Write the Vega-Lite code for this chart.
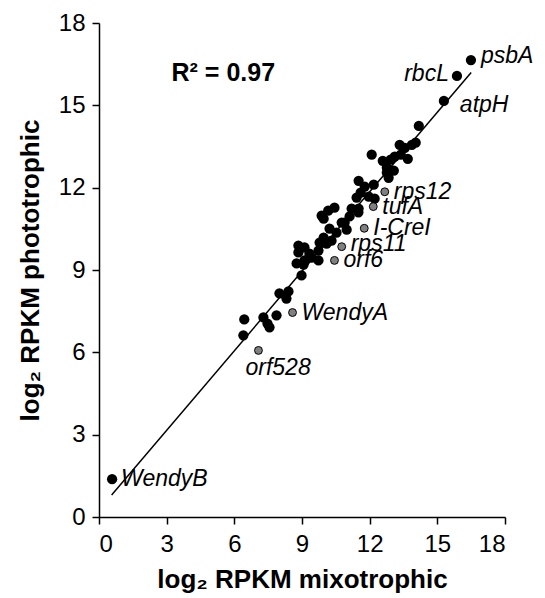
{
  "$schema": "https://vega.github.io/schema/vega-lite/v6.json",
  "autosize": {"type": "none"},
  "padding": {"left": 99, "top": 23, "right": 40, "bottom": 81},
  "width": 406,
  "height": 494,
  "background": "white",
  "config": {
    "view": {"stroke": null},
    "font": "Liberation Sans",
    "axis": {
      "grid": false,
      "domainColor": "black",
      "domainWidth": 1.5,
      "tickColor": "black",
      "tickWidth": 1.5,
      "tickSize": 7,
      "labelFont": "Liberation Sans",
      "labelFontSize": 24,
      "labelColor": "black",
      "titleFont": "Liberation Sans",
      "titleFontSize": 26,
      "titleFontWeight": "bold",
      "titleColor": "black"
    }
  },
  "datasets": {
    "genes": [
      {"x": 16.49, "y": 16.65, "group": "black", "label": "psbA"},
      {"x": 15.87, "y": 16.07, "group": "black", "label": "rbcL"},
      {"x": 15.29, "y": 15.16, "group": "black", "label": "atpH"},
      {"x": 14.18, "y": 14.25, "group": "black", "label": ""},
      {"x": 13.33, "y": 13.56, "group": "black", "label": ""},
      {"x": 13.56, "y": 13.45, "group": "black", "label": ""},
      {"x": 13.87, "y": 13.56, "group": "black", "label": ""},
      {"x": 14.04, "y": 13.64, "group": "black", "label": ""},
      {"x": 12.09, "y": 13.2, "group": "black", "label": ""},
      {"x": 12.58, "y": 12.98, "group": "black", "label": ""},
      {"x": 12.93, "y": 13.02, "group": "black", "label": ""},
      {"x": 13.11, "y": 13.13, "group": "black", "label": ""},
      {"x": 13.38, "y": 13.2, "group": "black", "label": ""},
      {"x": 13.69, "y": 13.05, "group": "black", "label": ""},
      {"x": 12.76, "y": 12.73, "group": "black", "label": ""},
      {"x": 13.07, "y": 12.62, "group": "black", "label": ""},
      {"x": 12.76, "y": 12.55, "group": "black", "label": ""},
      {"x": 12.84, "y": 12.36, "group": "black", "label": ""},
      {"x": 11.51, "y": 12.25, "group": "black", "label": ""},
      {"x": 11.78, "y": 12.04, "group": "black", "label": ""},
      {"x": 12.18, "y": 12.11, "group": "black", "label": ""},
      {"x": 11.6, "y": 11.82, "group": "black", "label": ""},
      {"x": 11.96, "y": 11.67, "group": "black", "label": ""},
      {"x": 11.42, "y": 11.64, "group": "black", "label": ""},
      {"x": 12.22, "y": 11.6, "group": "black", "label": ""},
      {"x": 10.44, "y": 11.27, "group": "black", "label": ""},
      {"x": 11.2, "y": 11.24, "group": "black", "label": ""},
      {"x": 11.51, "y": 11.24, "group": "black", "label": ""},
      {"x": 11.5, "y": 11.1, "group": "black", "label": ""},
      {"x": 11.11, "y": 10.95, "group": "black", "label": ""},
      {"x": 10.89, "y": 10.73, "group": "black", "label": ""},
      {"x": 10.16, "y": 11.16, "group": "black", "label": ""},
      {"x": 9.87, "y": 10.98, "group": "black", "label": ""},
      {"x": 9.96, "y": 10.87, "group": "black", "label": ""},
      {"x": 10.76, "y": 10.73, "group": "black", "label": ""},
      {"x": 10.98, "y": 10.47, "group": "black", "label": ""},
      {"x": 10.53, "y": 10.36, "group": "black", "label": ""},
      {"x": 10.22, "y": 10.51, "group": "black", "label": ""},
      {"x": 9.96, "y": 10.18, "group": "black", "label": ""},
      {"x": 9.78, "y": 10.0, "group": "black", "label": ""},
      {"x": 10.09, "y": 9.96, "group": "black", "label": ""},
      {"x": 10.31, "y": 10.07, "group": "black", "label": ""},
      {"x": 9.11, "y": 9.82, "group": "black", "label": ""},
      {"x": 8.84, "y": 9.89, "group": "black", "label": ""},
      {"x": 8.84, "y": 9.64, "group": "black", "label": ""},
      {"x": 9.33, "y": 9.6, "group": "black", "label": ""},
      {"x": 9.73, "y": 9.71, "group": "black", "label": ""},
      {"x": 9.11, "y": 9.35, "group": "black", "label": ""},
      {"x": 9.73, "y": 9.35, "group": "black", "label": ""},
      {"x": 8.76, "y": 9.24, "group": "black", "label": ""},
      {"x": 9.07, "y": 9.2, "group": "black", "label": ""},
      {"x": 9.42, "y": 9.45, "group": "black", "label": ""},
      {"x": 8.98, "y": 8.8, "group": "black", "label": ""},
      {"x": 8.0, "y": 8.15, "group": "black", "label": ""},
      {"x": 8.4, "y": 8.22, "group": "black", "label": ""},
      {"x": 8.31, "y": 7.96, "group": "black", "label": ""},
      {"x": 6.44, "y": 7.2, "group": "black", "label": ""},
      {"x": 7.29, "y": 7.27, "group": "black", "label": ""},
      {"x": 7.87, "y": 7.35, "group": "black", "label": ""},
      {"x": 7.56, "y": 6.91, "group": "black", "label": ""},
      {"x": 7.47, "y": 7.05, "group": "black", "label": ""},
      {"x": 6.4, "y": 6.62, "group": "black", "label": ""},
      {"x": 0.58, "y": 1.38, "group": "black", "label": "WendyB"},
      {"x": 12.67, "y": 11.85, "group": "gray", "label": "rps12"},
      {"x": 12.16, "y": 11.31, "group": "gray", "label": "tufA"},
      {"x": 11.76, "y": 10.52, "group": "gray", "label": "I-CreI"},
      {"x": 10.76, "y": 9.85, "group": "gray", "label": "rps11"},
      {"x": 10.44, "y": 9.35, "group": "gray", "label": "orf6"},
      {"x": 8.58, "y": 7.45, "group": "gray", "label": "WendyA"},
      {"x": 7.07, "y": 6.07, "group": "gray", "label": "orf528"}
    ],
    "fit": [
      {"x": 0.56, "y": 0.8},
      {"x": 16.5, "y": 16.2}
    ],
    "note": [
      {"x": 5.51, "y": 16.18, "text": "R² = 0.97"}
    ]
  },
  "encoding": {
    "x": {"field": "x", "type": "quantitative", "scale": {"domain": [0, 18], "nice": false}, "axis": {"values": [0, 3, 6, 9, 12, 15, 18], "title": "log₂ RPKM mixotrophic", "titlePadding": 10, "labelPadding": 8}},
    "y": {"field": "y", "type": "quantitative", "scale": {"domain": [0, 18], "nice": false}, "axis": {"values": [0, 3, 6, 9, 12, 15, 18], "title": "log₂ RPKM phototrophic", "titlePadding": 15, "labelPadding": 7}}
  },
  "layer": [
    {
      "data": {"name": "fit"},
      "mark": {"type": "line", "color": "black", "strokeWidth": 1.5}
    },
    {
      "data": {"name": "genes"},
      "transform": [{"filter": "datum.group === 'black'"}],
      "mark": {"type": "circle", "color": "black", "opacity": 1, "size": 105}
    },
    {
      "data": {"name": "genes"},
      "transform": [{"filter": "datum.group === 'gray'"}],
      "mark": {"type": "point", "shape": "circle", "filled": true, "fill": "#808080", "stroke": "black", "strokeWidth": 1, "opacity": 1, "size": 62}
    },
    {
      "data": {"name": "genes"},
      "transform": [{"filter": {"field": "label", "oneOf": ["rps12", "tufA", "I-CreI", "orf6", "WendyA", "WendyB"]}}],
      "mark": {"type": "text", "align": "left", "baseline": "middle", "dx": 9, "fontSize": 23, "fontStyle": "italic", "color": "black"},
      "encoding": {"text": {"field": "label"}}
    },
    {
      "data": {"name": "genes"},
      "transform": [{"filter": {"field": "label", "oneOf": ["psbA"]}}],
      "mark": {"type": "text", "align": "left", "baseline": "middle", "dx": 10, "dy": -4, "fontSize": 23, "fontStyle": "italic", "color": "black"},
      "encoding": {"text": {"field": "label"}}
    },
    {
      "data": {"name": "genes"},
      "transform": [{"filter": {"field": "label", "oneOf": ["rps11"]}}],
      "mark": {"type": "text", "align": "left", "baseline": "middle", "dx": 9, "dy": -3, "fontSize": 23, "fontStyle": "italic", "color": "black"},
      "encoding": {"text": {"field": "label"}}
    },
    {
      "data": {"name": "genes"},
      "transform": [{"filter": {"field": "label", "oneOf": ["atpH"]}}],
      "mark": {"type": "text", "align": "left", "baseline": "middle", "dx": 16, "dy": 4, "fontSize": 23, "fontStyle": "italic", "color": "black"},
      "encoding": {"text": {"field": "label"}}
    },
    {
      "data": {"name": "genes"},
      "transform": [{"filter": {"field": "label", "oneOf": ["rbcL"]}}],
      "mark": {"type": "text", "align": "right", "baseline": "middle", "dx": -8, "dy": -2, "fontSize": 23, "fontStyle": "italic", "color": "black"},
      "encoding": {"text": {"field": "label"}}
    },
    {
      "data": {"name": "genes"},
      "transform": [{"filter": {"field": "label", "oneOf": ["orf528"]}}],
      "mark": {"type": "text", "align": "left", "baseline": "middle", "dx": -13, "dy": 18, "fontSize": 23, "fontStyle": "italic", "color": "black"},
      "encoding": {"text": {"field": "label"}}
    },
    {
      "data": {"name": "note"},
      "mark": {"type": "text", "align": "center", "baseline": "middle", "fontSize": 25, "fontWeight": "bold", "color": "black"},
      "encoding": {"text": {"field": "text"}}
    }
  ]
}
